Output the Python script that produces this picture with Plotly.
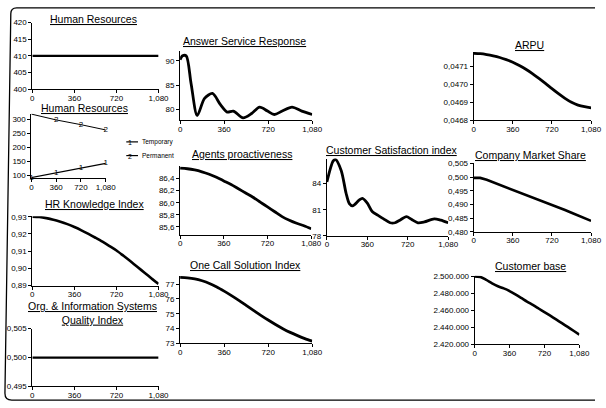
import plotly.graph_objects as go

W, H = 606, 408

# ---------------- data ----------------
time_steps = [0, 60, 120, 180, 240, 300, 360, 420, 480, 540, 600, 660, 720, 780, 840, 900, 960, 1020, 1080]
x_tick_vals = [0, 360, 720, 1080]
x_tick_text = ["0", "360", "720", "1,080"]

hr_total_t = [0, 360, 720, 1080]
hr_total = [410, 410, 410, 410]

hr_split_t = [0, 360, 720, 1080]
hr_temporary = [92, 109, 126, 143]
hr_permanent = [320, 299, 282, 263]
hr_temporary_marks = ["1", "1", "1", "1"]
hr_permanent_marks = ["", "2", "2", "2"]

hr_knowledge = [0.9300, 0.9298, 0.9292, 0.9283, 0.9271, 0.9257, 0.9240, 0.9221, 0.9200, 0.9178,
                0.9155, 0.9130, 0.9104, 0.9073, 0.9041, 0.9008, 0.8975, 0.8942, 0.8910]

org_quality_t = [0, 360, 720, 1080]
org_quality = [0.500, 0.500, 0.500, 0.500]

asr_t = [0, 20, 50, 90, 140, 200, 265, 330, 385, 435, 515, 585, 650, 715, 770, 835, 915, 995, 1080]
asr = [90.2, 91.0, 91.0, 85.3, 78.8, 82.3, 83.3, 81.0, 79.5, 79.7, 78.3, 79.2, 80.5, 79.7, 79.0, 79.7, 80.5, 79.7, 79.0]

agents = [86.57, 86.56, 86.54, 86.51, 86.47, 86.42, 86.36, 86.30, 86.23, 86.16,
          86.09, 86.01, 85.93, 85.85, 85.77, 85.71, 85.66, 85.62, 85.57]

one_call = [77.45, 77.42, 77.35, 77.22, 77.04, 76.80, 76.52, 76.22, 75.90, 75.56,
            75.22, 74.89, 74.57, 74.27, 73.99, 73.74, 73.52, 73.32, 73.15]

csi_t = [0, 55, 76, 128, 171, 200, 229, 287, 316, 360, 403, 462, 505, 563, 607, 650, 708, 752, 810, 868, 955, 1013, 1080]
csi = [84.2, 86.6, 86.8, 85.5, 82.9, 81.7, 81.45, 82.1, 82.3, 81.75, 80.8, 80.3, 79.95, 79.5, 79.5, 79.8, 80.2, 79.9,
       79.5, 79.6, 79.95, 79.8, 79.5]

arpu = [0.047172, 0.047170, 0.047165, 0.047158, 0.047149, 0.047137, 0.047123, 0.047105, 0.047084, 0.047060,
        0.047033, 0.047005, 0.046976, 0.046948, 0.046922, 0.046900, 0.046885, 0.046876, 0.046870]

market_share = [0.4997, 0.4997, 0.4990, 0.4981, 0.4972, 0.4963, 0.4954, 0.4945, 0.4936, 0.4927,
                0.4918, 0.4908, 0.4899, 0.4890, 0.4880, 0.4870, 0.4860, 0.4850, 0.4840]

customer_base = [2500000, 2499500, 2496000, 2492000, 2488500, 2486000, 2482900, 2479000, 2474800, 2470500,
                 2466500, 2462300, 2458100, 2453800, 2449400, 2445000, 2440500, 2436000, 2431400]

# y tick labels
hr_total_ticks = [400, 405, 410, 415, 420]
hr_total_text = ["400", "405", "410", "415", "420"]
hr_split_ticks = [100, 150, 200, 250, 300]
hr_split_text = ["100", "150", "200", "250", "300"]
hrk_ticks = [0.89, 0.90, 0.91, 0.92, 0.93]
hrk_text = ["0,89", "0,90", "0,91", "0,92", "0,93"]
org_ticks = [0.495, 0.500, 0.505]
org_text = ["0,495", "0,500", "0,505"]
asr_ticks = [80, 85, 90]
asr_text = ["80", "85", "90"]
agents_ticks = [85.6, 85.8, 86.0, 86.2, 86.4]
agents_text = ["85,6", "85,8", "86,0", "86,2", "86,4"]
one_call_ticks = [73, 74, 75, 76, 77]
one_call_text = ["73", "74", "75", "76", "77"]
csi_ticks = [78, 81, 84]
csi_text = ["78", "81", "84"]
arpu_ticks = [0.0468, 0.0469, 0.0470, 0.0471]
arpu_text = ["0,0468", "0,0469", "0,0470", "0,0471"]
ms_ticks = [0.480, 0.485, 0.490, 0.495, 0.500, 0.505]
ms_text = ["0,480", "0,485", "0,490", "0,495", "0,500", "0,505"]
cb_ticks = [2420000, 2440000, 2460000, 2480000, 2500000]
cb_text = ["2.420.000", "2.440.000", "2.460.000", "2.480.000", "2.500.000"]

# ---------------- layout helpers ----------------
FONT = "Liberation Sans, Arial, sans-serif"


def xdom(l, r):
    return [l / W, r / W]


def ydom(t, b):
    return [1 - b / H, 1 - t / H]


panels = [
    # title, title center (px), rect (l, r, t, b), y range, y ticks, y text
    dict(title="Human Resources", tc=(93, 15), rect=(31, 160, 19, 87), yr=[400, 420],
         yt=hr_total_ticks, ytt=hr_total_text),
    dict(title="Human Resources", tc=(84, 106), rect=(30, 106, 112, 178), yr=[90, 322],
         yt=hr_split_ticks, ytt=hr_split_text),
    dict(title="HR Knowledge Index", tc=(95, 205), rect=(31, 160, 217, 288), yr=[0.89, 0.9303],
         yt=hrk_ticks, ytt=hrk_text),
    dict(title="Org. & Information Systems<br>Quality Index", tc=(92, 316), rect=(31, 160, 332, 391),
         yr=[0.495, 0.505], yt=org_ticks, ytt=org_text),
    dict(title="Answer Service Response", tc=(248, 38), rect=(182, 317, 48, 119), yr=[77.8, 92],
         yt=asr_ticks, ytt=asr_text),
    dict(title="Agents proactiveness", tc=(245, 153), rect=(182, 316, 166, 236), yr=[85.47, 86.6],
         yt=agents_ticks, ytt=agents_text),
    dict(title="One Call Solution Index", tc=(249, 267), rect=(182, 317, 278, 347), yr=[73, 77.55],
         yt=one_call_ticks, ytt=one_call_text),
    dict(title="Customer Satisfaction index", tc=(398, 149), rect=(332, 456, 158, 237), yr=[78, 86.9],
         yt=csi_ticks, ytt=csi_text),
    dict(title="ARPU", tc=(539, 42), rect=(482, 602, 49, 119), yr=[0.0468, 0.04718],
         yt=arpu_ticks, ytt=arpu_text),
    dict(title="Company Market Share", tc=(540, 154), rect=(482, 602, 163, 233), yr=[0.480, 0.505],
         yt=ms_ticks, ytt=ms_text),
    dict(title="Customer base", tc=(540, 268), rect=(483, 590, 278, 348), yr=[2420000, 2500800],
         yt=cb_ticks, ytt=cb_text),
]

series = [
    [(hr_total_t, hr_total, 2.4, "linear", None)],
    [(hr_split_t, hr_temporary, 1.3, "linear", hr_temporary_marks),
     (hr_split_t, hr_permanent, 1.0, "linear", hr_permanent_marks)],
    [(time_steps, hr_knowledge, 2.6, "spline", None)],
    [(org_quality_t, org_quality, 2.2, "linear", None)],
    [(asr_t, asr, 2.8, "spline", None)],
    [(time_steps, agents, 2.8, "spline", None)],
    [(time_steps, one_call, 2.8, "spline", None)],
    [(csi_t, csi, 2.8, "spline", None)],
    [(time_steps, arpu, 2.8, "spline", None)],
    [(time_steps, market_share, 2.6, "linear", None)],
    [(time_steps, customer_base, 2.6, "spline", None)],
]

fig = go.Figure()
layout = dict(
    width=W, height=H,
    margin=dict(l=0, r=0, t=0, b=0),
    paper_bgcolor="white", plot_bgcolor="white",
    showlegend=False,
    font=dict(family=FONT, color="black"),
)
annotations = []
shapes = []

axis_common = dict(showline=True, linecolor="black", linewidth=1, ticks="outside", ticklen=3,
                   tickwidth=1, tickcolor="black", showgrid=False, zeroline=False,
                   tickfont=dict(family=FONT, size=8, color="black"), fixedrange=True)

for i, (p, ser) in enumerate(zip(panels, series), start=1):
    xn = "xaxis" if i == 1 else f"xaxis{i}"
    yn = "yaxis" if i == 1 else f"yaxis{i}"
    xr = "x" if i == 1 else f"x{i}"
    yr = "y" if i == 1 else f"y{i}"
    l, r, t, b = p["rect"]
    layout[xn] = dict(axis_common, domain=xdom(l, r), anchor=yr, range=[0, 1080],
                      tickmode="array", tickvals=x_tick_vals, ticktext=x_tick_text, ticklabelstandoff=-2)
    layout[yn] = dict(axis_common, domain=ydom(t, b), anchor=xr, range=p["yr"],
                      tickmode="array", tickvals=p["yt"], ticktext=p["ytt"], ticklabelstandoff=0)
    for (xs, ys, lw, shape, marks) in ser:
        tr = dict(x=xs, y=ys, xaxis=xr, yaxis=yr, line=dict(color="black", width=lw, shape=shape),
                  hoverinfo="skip", cliponaxis=False)
        if shape == "spline":
            tr["line"]["smoothing"] = 0.8
        if marks is not None:
            tr.update(mode="lines+text", text=marks, textposition="middle center",
                      textfont=dict(family=FONT, size=8, color="black"))
        else:
            tr.update(mode="lines")
        fig.add_trace(go.Scatter(**tr))
    cx, cy = p["tc"]
    annotations.append(dict(text=f"<u>{p['title'].replace('<br>', '</u><br><u>')}</u>", x=cx / W, y=1 - cy / H,
                            xref="paper", yref="paper", xanchor="center", yanchor="middle",
                            showarrow=False, font=dict(family=FONT, size=10.5, color="black")))

# legend of the second Human Resources chart
legend_items = [("Temporary", "1", 141), ("Permanent", "2", 155)]
for name, mk, py in legend_items:
    shapes.append(dict(type="line", xref="paper", yref="paper", x0=127 / W, x1=139 / W,
                       y0=1 - py / H, y1=1 - py / H, line=dict(color="black", width=1.2)))
    annotations.append(dict(text=mk, x=131 / W, y=1 - (py + 1) / H, xref="paper", yref="paper",
                            xanchor="center", yanchor="middle", showarrow=False,
                            font=dict(family=FONT, size=7, color="black")))
    annotations.append(dict(text=name, x=141 / W, y=1 - py / H, xref="paper", yref="paper",
                            xanchor="left", yanchor="middle", showarrow=False,
                            font=dict(family=FONT, size=6.5, color="black")))


# outer rounded frame
def P(x, y):
    return f"{x / W:.5f},{1 - y / H:.5f}"


frame = (f"M {P(606, 4)} L {P(15, 4)} Q {P(9, 4)} {P(9, 10)} L {P(3, 398)} "
         f"Q {P(3, 405)} {P(10, 405)} L {P(606, 405)}")
shapes.append(dict(type="path", xref="paper", yref="paper", path=frame,
                   line=dict(color="black", width=1.3)))

layout["annotations"] = annotations
layout["shapes"] = shapes
fig.update_layout(**layout)
fig.write_html("out.html", config=dict(displayModeBar=False),
               post_script="document.body.style.margin='0';document.body.style.overflow='hidden';")
